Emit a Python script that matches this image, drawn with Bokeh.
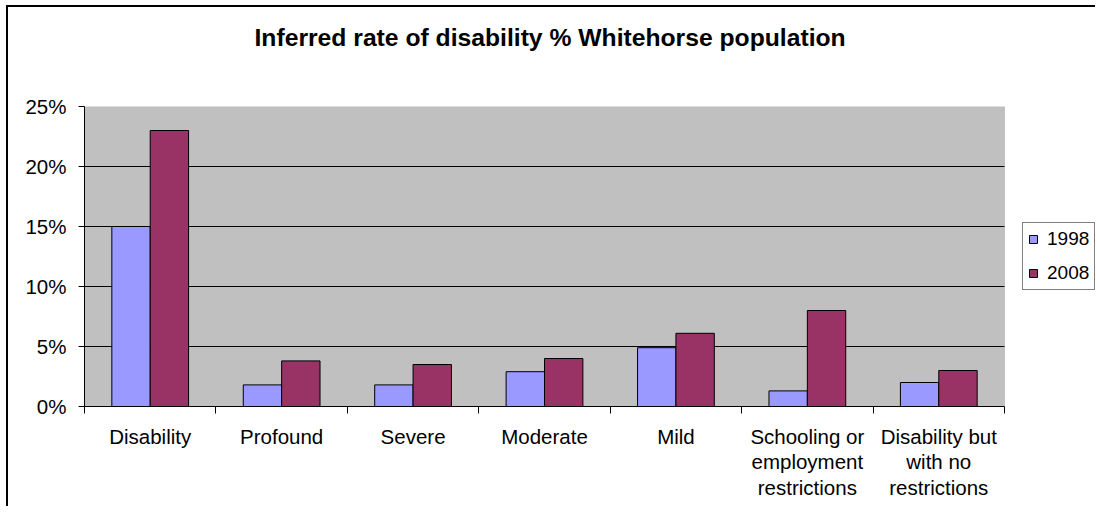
from bokeh.plotting import figure
from bokeh.models import (Range1d, LinearAxis, FixedTicker, BoxAnnotation,
                          NumeralTickFormatter, Legend, LegendItem, ColumnDataSource)
from bokeh.transform import dodge
from bokeh.embed import file_html
from bokeh.resources import INLINE

# ---- data ----
categories = ["Disability", "Profound", "Severe", "Moderate", "Mild",
              "Schooling or\nemployment\nrestrictions",
              "Disability but\nwith no\nrestrictions"]
years = ["1998", "2008"]
rate_1998 = [0.15, 0.018, 0.018, 0.029, 0.049, 0.013, 0.020]
rate_2008 = [0.23, 0.038, 0.035, 0.040, 0.061, 0.080, 0.030]
y_ticks = [0, 0.05, 0.10, 0.15, 0.20, 0.25]
title_text = "Inferred rate of disability % Whitehorse population"

FONT = "Liberation Sans"
n = len(categories)
centers = [i + 0.5 for i in range(n)]
y_max = y_ticks[-1]

# layout: grey plot area is 920 px wide; the frame also covers the legend area
AREA_W, FRAME_W = 920, 1013

src = ColumnDataSource(dict(x=centers, r1998=rate_1998, r2008=rate_2008))

p = figure(x_range=Range1d(0, n * FRAME_W / AREA_W), y_range=Range1d(0, y_max),
           width=1089, height=500, frame_width=FRAME_W, frame_height=300,
           output_backend="svg", toolbar_location=None,
           x_axis_type=None,
           min_border_left=76, min_border_right=0, min_border_top=98, min_border_bottom=102,
           background_fill_color="white", border_fill_color="white",
           outline_line_color=None)
p.margin = (7, 0, 0, 8)
p.styles = {"box-shadow": "-2px -2px 0 0 black"}

# grey plot area with grey border
p.add_layout(BoxAnnotation(left=0, right=n, bottom=0, top=y_max,
                           fill_color="#C0C0C0", fill_alpha=1,
                           line_color="#808080", line_width=1, level="underlay"))

# title (a blank second line keeps the text high in its panel)
p.title.text = title_text + "\n "
p.title.text_font = FONT
p.title.text_font_size = "24.7px"
p.title.text_font_style = "bold"
p.title.text_color = "black"
p.title.text_line_height = 1.42
p.title.align = "left"
p.title.vertical_align = "top"
p.title.standoff = 32
p.title.offset = 170

# y axis
ya = p.yaxis[0]
ya.ticker = FixedTicker(ticks=y_ticks)
ya.formatter = NumeralTickFormatter(format="0%")
ya.major_tick_out = 6
ya.major_tick_in = 0
ya.minor_tick_line_color = None
ya.major_label_standoff = 12
ya.major_label_text_font = FONT
ya.major_label_text_font_size = "20.5px"
ya.major_label_text_color = "black"
ya.axis_line_color = "black"
ya.major_tick_line_color = "black"

p.ygrid.visible = False
p.xgrid.visible = False

# horizontal gridlines across the plot area only
inner = y_ticks[1:-1]
p.segment(x0=[0] * len(inner), x1=[n] * len(inner), y0=inner, y1=inner,
          line_color="black", line_width=1)

# x axis: labels at category centres, ticks at category boundaries
xa = LinearAxis(ticker=FixedTicker(ticks=centers, minor_ticks=list(range(n + 1))),
                major_label_overrides={c: lab for c, lab in zip(centers, categories)})
xa.bounds = (0, n)
xa.major_tick_out = 0
xa.major_tick_in = 0
xa.major_tick_line_color = None
xa.minor_tick_out = 7
xa.minor_tick_in = 0
xa.minor_tick_line_color = "black"
xa.axis_line_color = "black"
xa.major_label_standoff = 11
xa.major_label_text_font = FONT
xa.major_label_text_font_size = "20.5px"
xa.major_label_text_color = "black"
xa.major_label_text_line_height = 1.13
p.add_layout(xa, "below")

# bars
bw = 0.292
r1 = p.vbar(x=dodge("x", -bw / 2), top="r1998", width=bw, source=src,
            fill_color="#9999FF", line_color="black", line_width=1)
r2 = p.vbar(x=dodge("x", bw / 2), top="r2008", width=bw, source=src,
            fill_color="#993366", line_color="black", line_width=1)

legend = Legend(items=[LegendItem(label=years[0], renderers=[r1]),
                       LegendItem(label=years[1], renderers=[r2])],
                location=(938, 116))
legend.border_line_color = "black"
legend.border_line_width = 1
legend.background_fill_color = "white"
legend.background_fill_alpha = 1
legend.label_text_font = FONT
legend.label_text_font_size = "19px"
legend.label_text_color = "black"
legend.glyph_width = 10
legend.glyph_height = 10
legend.padding = 5
legend.spacing = 12
legend.label_standoff = 9
legend.margin = 0
p.add_layout(legend, "center")

open("out.html", "w").write(file_html(p, INLINE))
